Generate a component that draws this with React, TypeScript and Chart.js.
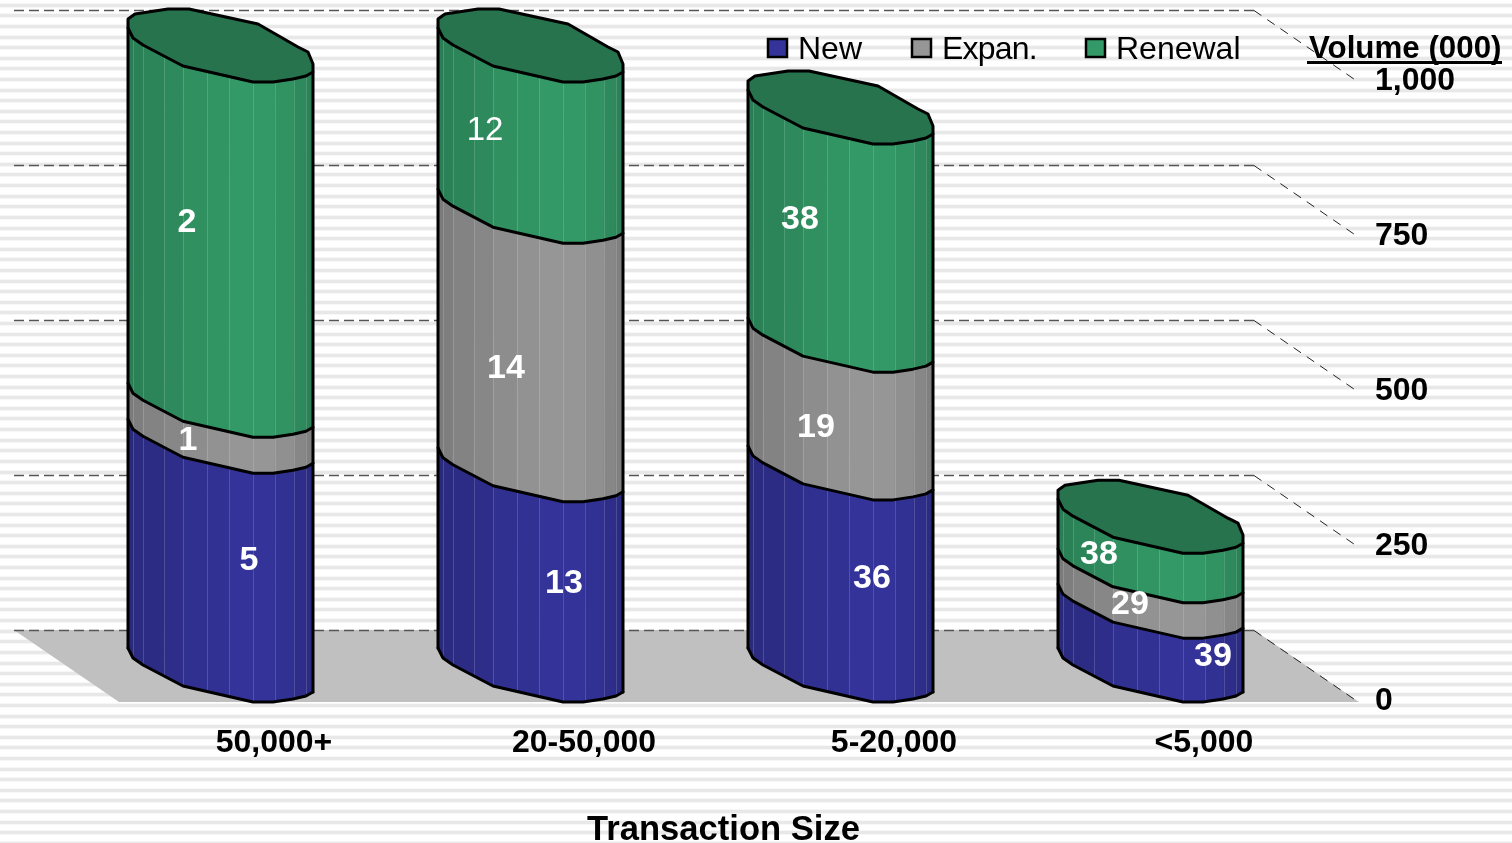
import React, { useEffect, useRef } from "react";
import { Chart, registerables } from "chart.js";

Chart.register(...registerables);

// ---- data ----
const categories = ["50,000+", "20-50,000", "5-20,000", "<5,000"];
const seriesNames = ["New", "Expan.", "Renewal"];
const newVolume = [369, 323, 326, 103];
const expanVolume = [58, 417, 206, 57];
const renewalVolume = [573, 260, 368, 80];
const newCounts = ["5", "13", "36", "39"];
const expanCounts = ["1", "14", "19", "29"];
const renewalCounts = ["2", "12", "38", "38"];
const yTicks = [0, 250, 500, 750, 1000];
const xTitle = "Transaction Size";
const yTitle = "Volume (000)";

// ---- styling ----
const FONT = '"Liberation Sans", Arial, sans-serif';
const seriesColors = ["#333399", "#969696", "#339966"];
const capColor = "#26734D";
const floorColor = "#C0C0C0";

// label nudges per series [dx from category centre, dy from segment top]
const labelNudges = [
  [[-25, 88], [-20, 82], [-22, 79], [9, 19]],
  [[-86, 4], [-78, 126], [-78, 56], [-74, 2]],
  [[-87, 141], [-99, 49], [-94, 76], [-105, 2]],
];
const countLabels = [newCounts, expanCounts, renewalCounts];

// prism geometry, relative to the front-right edge of a bar
const BAR_SHIFT = 53; // bar sits back from the floor's front edge
const EDGE_LIFT = 9.5;
const BACK_LIFT = 71.5;
const DEPTH_X = 105;
const DEPTH_Y = 72;
const frontCurve: [number, number][] = [
  [0, -44], [5, -34], [15, -27], [55, -6], [125, 10], [145, 10], [165, 7], [178, 4], [185, 0],
];
const backCurve: [number, number][] = [
  [0, -53], [7, -58], [40, -63], [61, -63], [130, -48], [170, -25], [180, -20], [185, -8],
];
const faceEdges = [0, 5, 15, 36, 55, 79, 101, 125, 147, 166, 178, 185];
const faceShade = [0.82, 0.84, 0.87, 0.9, 0.94, 0.97, 1, 1, 0.96, 0.9, 0.85];

function frontY(dx: number) {
  for (let i = 1; i < frontCurve.length; i++) {
    const [x0, y0] = frontCurve[i - 1];
    const [x1, y1] = frontCurve[i];
    if (dx <= x1) return y0 + ((y1 - y0) * (dx - x0)) / (x1 - x0);
  }
  return 0;
}

function shade(hex: string, f: number) {
  const n = parseInt(hex.slice(1), 16);
  return `rgb(${((n >> 16) & 255) * f},${((n >> 8) & 255) * f},${(n & 255) * f})`;
}

const prismPlugin = {
  id: "prism",
  beforeDraw(chart: any) {
    const { ctx, width, height } = chart;
    ctx.save();
    ctx.fillStyle = "#fff";
    ctx.fillRect(0, 0, width, height);
    for (let y = 4.7; y < height; y += 10.61) {
      const r = Math.round(y);
      ctx.fillStyle = "#f7f7f7";
      ctx.fillRect(0, r - 2, width, 5);
      ctx.fillStyle = "#e8e8e8";
      ctx.fillRect(0, r - 1, width, 3);
    }
    ctx.restore();
  },
  beforeDatasetsDraw(chart: any) {
    const { ctx, scales, chartArea } = chart;
    const y0 = scales.y.getPixelForValue(0);
    const left = chartArea.left;
    const right = chartArea.right;
    ctx.save();
    ctx.fillStyle = floorColor;
    ctx.beginPath();
    ctx.moveTo(left - DEPTH_X, y0 - BACK_LIFT);
    ctx.lineTo(right - DEPTH_X, y0 - BACK_LIFT);
    ctx.lineTo(right, y0 + 0.5);
    ctx.lineTo(left, y0 + 0.5);
    ctx.closePath();
    ctx.fill();
    for (const v of yTicks) {
      const y = Math.round(scales.y.getPixelForValue(v) - BACK_LIFT) + 0.5;
      ctx.strokeStyle = "#555";
      ctx.lineWidth = 1.5;
      ctx.setLineDash([10, 5]);
      ctx.beginPath();
      ctx.moveTo(left - DEPTH_X, y);
      ctx.lineTo(right - DEPTH_X, y);
      ctx.stroke();
      ctx.strokeStyle = "#222";
      ctx.lineWidth = 1;
      ctx.setLineDash([9, 7]);
      ctx.beginPath();
      ctx.moveTo(right - DEPTH_X, y);
      ctx.lineTo(right, y + DEPTH_Y);
      ctx.stroke();
    }
    ctx.restore();
  },
  beforeDatasetDraw() {
    return false; // the prisms below replace the flat bars
  },
  afterDatasetsDraw(chart: any) {
    const { ctx } = chart;
    ctx.save();
    ctx.lineJoin = "round";
    ctx.lineCap = "round";
    categories.forEach((_, j) => {
      const first = chart.getDatasetMeta(0).data[j];
      const x0 = first.x - first.width / 2 - BAR_SHIFT;
      const baseEdge = first.base - EDGE_LIFT;
      let topEdge = baseEdge;
      seriesColors.forEach((color, s) => {
        const el = chart.getDatasetMeta(s).data[j];
        const yTop = el.y - EDGE_LIFT;
        const yBot = el.base - EDGE_LIFT;
        topEdge = yTop;
        faceShade.forEach((f, k) => {
          const a = faceEdges[k];
          const b = faceEdges[k + 1];
          ctx.beginPath();
          for (let d = a; d <= b; d++) ctx.lineTo(x0 + d, yTop + frontY(d));
          for (let d = b; d >= a; d--) ctx.lineTo(x0 + d, yBot + frontY(d));
          ctx.closePath();
          ctx.fillStyle = shade(color, f);
          ctx.fill();
          ctx.strokeStyle = shade(color, f);
          ctx.lineWidth = 0.6;
          ctx.stroke();
        });
        ctx.strokeStyle = "rgba(255,255,255,0.16)";
        ctx.lineWidth = 1;
        for (const d of faceEdges.slice(1, -1)) {
          ctx.beginPath();
          ctx.moveTo(x0 + d + 0.5, yTop + frontY(d));
          ctx.lineTo(x0 + d + 0.5, yBot + frontY(d));
          ctx.stroke();
        }
      });
      // cap
      ctx.beginPath();
      backCurve.forEach(([d, o]) => ctx.lineTo(x0 + d, topEdge + o));
      [...frontCurve].reverse().forEach(([d, o]) => ctx.lineTo(x0 + d, topEdge + o));
      ctx.closePath();
      ctx.fillStyle = capColor;
      ctx.fill();
      ctx.strokeStyle = "#000";
      ctx.lineWidth = 3;
      ctx.stroke();
      // segment floors and sides
      seriesColors.forEach((_c, s) => {
        const el = chart.getDatasetMeta(s).data[j];
        const yBot = el.base - EDGE_LIFT;
        ctx.beginPath();
        frontCurve.forEach(([d, o]) => ctx.lineTo(x0 + d, yBot + o));
        ctx.stroke();
      });
      ctx.beginPath();
      ctx.moveTo(x0, topEdge + frontCurve[0][1]);
      ctx.lineTo(x0, baseEdge + frontCurve[0][1]);
      ctx.moveTo(x0 + 185, topEdge);
      ctx.lineTo(x0 + 185, baseEdge);
      ctx.stroke();
    });
    ctx.restore();
  },
  afterDraw(chart: any) {
    const { ctx } = chart;
    ctx.save();
    // data labels
    ctx.fillStyle = "#fff";
    ctx.textAlign = "center";
    ctx.textBaseline = "middle";
    countLabels.forEach((labels, s) => {
      labels.forEach((text, j) => {
        const el = chart.getDatasetMeta(s).data[j];
        const [dx, dy] = labelNudges[s][j];
        ctx.font = s === 2 && j === 1 ? `33px ${FONT}` : `bold 34px ${FONT}`;
        ctx.fillText(text, el.x + dx, el.y + dy);
      });
    });
    // legend
    ctx.textAlign = "left";
    ctx.font = `32px ${FONT}`;
    const legendX = [768, 912, 1086];
    seriesNames.forEach((name, s) => {
      ctx.fillStyle = seriesColors[s];
      ctx.fillRect(legendX[s], 39, 19, 18);
      ctx.strokeStyle = "#000";
      ctx.lineWidth = 2.5;
      ctx.strokeRect(legendX[s], 39, 19, 18);
      ctx.fillStyle = "#000";
      (ctx as any).letterSpacing = s === 1 ? "-0.8px" : "0px";
      ctx.fillText(name, legendX[s] + 30, 50);
    });
    (ctx as any).letterSpacing = "0px";
    // axis titles
    ctx.font = `bold 31.3px ${FONT}`;
    ctx.textAlign = "left";
    ctx.fillText(yTitle, 1309, 49);
    ctx.fillRect(1307, 61, 195, 3);
    ctx.font = `bold 34.6px ${FONT}`;
    ctx.textAlign = "center";
    ctx.fillText(xTitle, 723.5, 830);
    ctx.restore();
  },
};

export default function App() {
  const ref = useRef<HTMLCanvasElement>(null);
  useEffect(() => {
    const chart = new Chart(ref.current!, {
      type: "bar",
      data: {
        labels: categories,
        datasets: [newVolume, expanVolume, renewalVolume].map((data, s) => ({
          label: seriesNames[s],
          data,
          backgroundColor: seriesColors[s],
          barPercentage: 0.6,
          categoryPercentage: 1,
        })),
      },
      options: {
        animation: false,
        responsive: false,
        devicePixelRatio: 1,
        layout: { padding: { left: 119, top: 81.5, right: 0, bottom: 0 } },
        plugins: { legend: { display: false }, title: { display: false }, tooltip: { enabled: false } },
        scales: {
          x: {
            stacked: true,
            grid: { display: false },
            border: { display: false },
            ticks: {
              color: "#000",
              maxRotation: 0,
              autoSkip: false,
              padding: 14.5,
              font: { family: FONT, size: 32, weight: "bold" },
            },
            afterFit: (s: any) => {
              s.height = 141.5;
            },
          },
          y: {
            stacked: true,
            position: "right",
            min: 0,
            max: 1000,
            grid: { display: false, drawTicks: false },
            border: { display: false },
            afterBuildTicks: (s: any) => {
              s.ticks = yTicks.map((value) => ({ value }));
            },
            ticks: {
              color: "#000",
              padding: 16,
              font: { family: FONT, size: 32, weight: "bold" },
              callback: (v: any) => Number(v).toLocaleString("en-US"),
            },
            afterFit: (s: any) => {
              s.width = 153;
            },
          },
        },
      },
      plugins: [prismPlugin],
    } as any);
    return () => chart.destroy();
  }, []);
  return (
    <div style={{ position: "fixed", left: 0, top: 0, width: 1512, height: 843 }}>
      <canvas ref={ref} width={1512} height={843} style={{ display: "block" }} />
    </div>
  );
}
